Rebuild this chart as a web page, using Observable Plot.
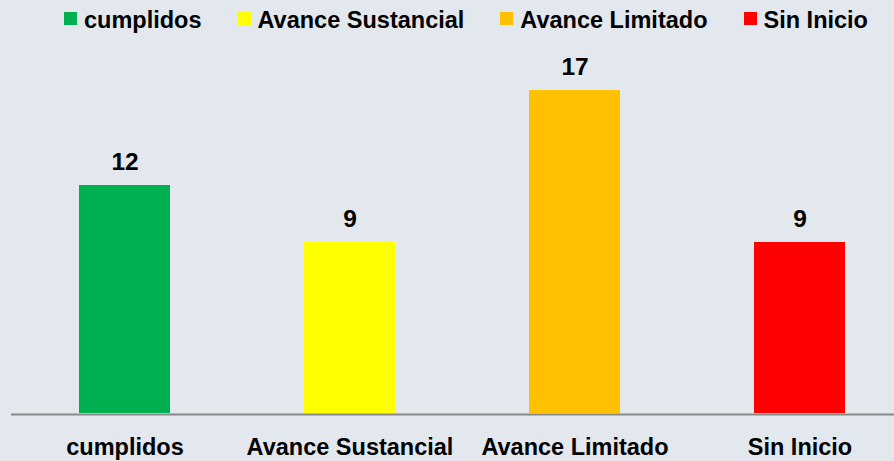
<!DOCTYPE html>
<html>
<head>
<meta charset="utf-8">
<script src="https://cdn.jsdelivr.net/npm/d3@7"></script>
<script src="https://cdn.jsdelivr.net/npm/@observablehq/plot@0.6"></script>
<style>
  html, body { margin: 0; padding: 0; background: #e3e7ee; width: 894px; height: 461px; overflow: hidden; }
  #legend { height: 40px; display: flex; align-items: center; padding-left: 64px; gap: 36px;
            font-family: "Liberation Sans", Arial, sans-serif; font-weight: bold; font-size: 23.5px; line-height: 40px; color: #000; }
  .item { display: flex; align-items: center; }
  .sw { width: 13px; height: 13px; margin-right: 7px; position: relative; top: -1.5px; }
  #chart svg { display: block; }
</style>
</head>
<body>
<div id="legend"></div>
<div id="chart"></div>
<script>
const categories = ["cumplidos", "Avance Sustancial", "Avance Limitado", "Sin Inicio"];
const values = [12, 9, 17, 9];
const colors = ["#00b050", "#ffff00", "#ffc000", "#ff0000"];

const data = categories.map((c, i) => ({category: c, value: values[i], color: colors[i]}));

const legend = document.getElementById("legend");
categories.forEach((c, i) => {
  const item = document.createElement("div");
  item.className = "item";
  const sw = document.createElement("span");
  sw.className = "sw";
  sw.style.background = colors[i];
  const t = document.createElement("span");
  t.textContent = c;
  item.appendChild(sw);
  item.appendChild(t);
  legend.appendChild(item);
});

const chart = Plot.plot({
  width: 894,
  height: 421,
  marginLeft: 11,
  marginRight: 0,
  marginTop: 0,
  marginBottom: 0,
  style: {background: "transparent", fontFamily: "Liberation Sans, Arial, sans-serif"},
  x: {domain: categories, range: [12, 912], padding: 0, axis: null},
  y: {domain: [0, 17], range: [373, 50], axis: null},
  color: {domain: categories, range: colors},
  marks: [
    Plot.barY(data, {x: "category", y: "value", fill: "color", insetLeft: 67, insetRight: 67}),
    Plot.ruleY([0], {stroke: "#898989", strokeWidth: 2, dy: 1}),
    Plot.text(data, {x: "category", y: "value", text: d => String(d.value), dy: -16, lineAnchor: "bottom",
      fontSize: 24.5, fontWeight: "bold", fill: "#000"}),
    Plot.text(data, {x: "category", y: () => 0, text: "category", dy: 41, lineAnchor: "bottom",
      fontSize: 23.5, fontWeight: "bold", fill: "#000"})
  ]
});
document.getElementById("chart").appendChild(chart);
</script>
</body>
</html>
